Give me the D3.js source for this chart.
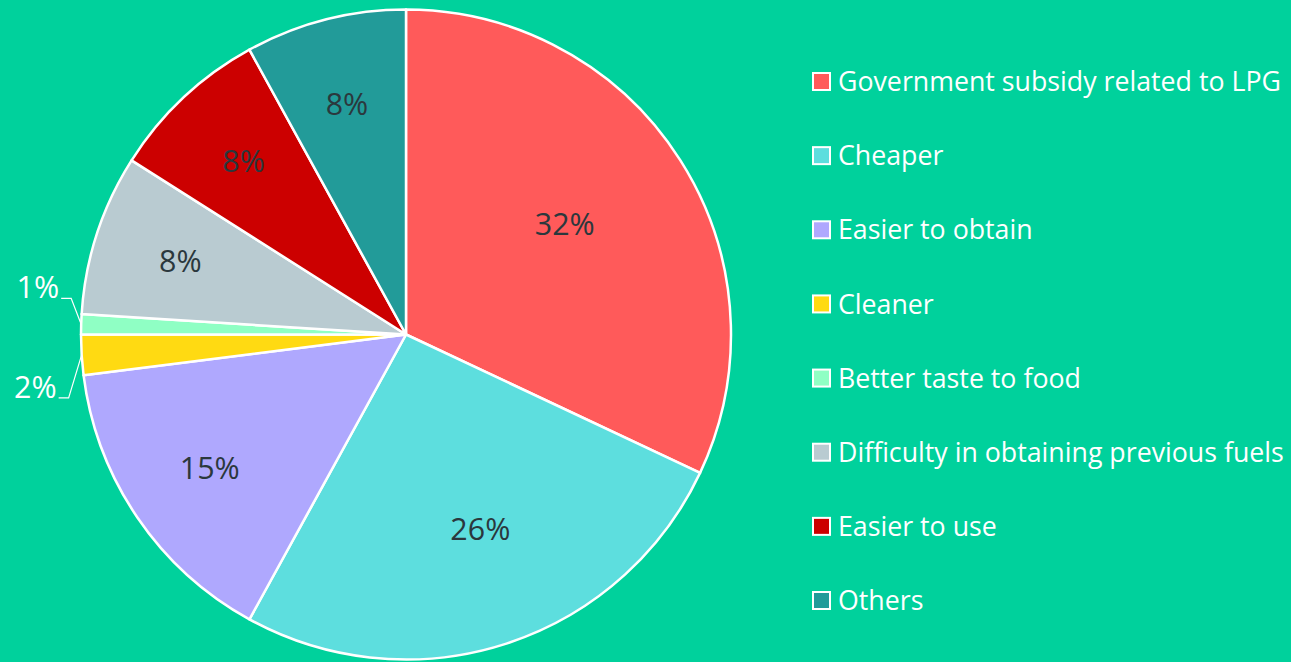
<!DOCTYPE html>
<html><head><meta charset="utf-8">
<script src="https://cdn.jsdelivr.net/npm/d3@7"></script>
<style>html,body{margin:0;padding:0;background:#00D19C;overflow:hidden}</style>
</head><body>
<svg id="c" width="1291" height="662"></svg>
<script>
const categories = ["Government subsidy related to LPG","Cheaper","Easier to obtain","Cleaner","Better taste to food","Difficulty in obtaining previous fuels","Easier to use","Others"];
const values = [32, 26, 15, 2, 1, 8, 8, 8];
const labels = ["32%","26%","15%","2%","1%","8%","8%","8%"];
const colors = ["#FF5A5A","#5DDEDE","#AFA8FE","#FFDA12","#8FFFC4","#B9CBD1","#CC0000","#229B99"];

const svg = d3.select("#c");
svg.append("rect").attr("width",1291).attr("height",662).attr("fill","#00D19C");
const cx = 406, cy = 334.5, R = 325;
const g = svg.append("g").attr("transform",`translate(${cx},${cy})`);
const pie = d3.pie().sort(null).value(d=>d)(values);
const arc = d3.arc().innerRadius(0).outerRadius(R);
g.selectAll("path").data(pie).join("path")
  .attr("d",arc).attr("fill",(d,i)=>colors[i])
  .attr("stroke","#fff").attr("stroke-width",2.5).attr("stroke-linejoin","round");

const font = "'Open Sans', sans-serif";
const total = d3.sum(values);
const probe = svg.append("text").attr("font-family",font).attr("font-size",30).text("32%");
const pw = probe.node().getComputedTextLength(); probe.remove();
const pFont = 30*60/pw;

pie.forEach((d,i)=>{
  const v = values[i]/total;
  const mid = (d.startAngle+d.endAngle)/2;
  if (v >= 0.05) {
    const f = 0.73 - 0.8*Math.max(0, v-0.15);
    const a = mid - (v > 0.3 ? 0.04 : v > 0.2 ? 0.05 : 0);
    const x = Math.sin(a)*R*f, y = -Math.cos(a)*R*f;
    g.append("text").attr("x",x).attr("y",y).attr("dy","0.35em")
      .attr("text-anchor","middle").attr("font-family",font).attr("font-size",pFont)
      .attr("fill","#2B383D").text(labels[i]);
  } else {
    const px = Math.sin(mid)*R, py = -Math.cos(mid)*R;
    const up = mid > 3*Math.PI/2;
    const ex = px - (up?10:13), ey = py + (up?-26:43);
    g.append("polyline").attr("points",`${px},${py} ${ex},${ey} ${ex-10},${ey}`)
      .attr("fill","none").attr("stroke","#fff").attr("stroke-width",1.2);
    g.append("text").attr("x",ex-12).attr("y",ey)
      .attr("text-anchor","end").attr("font-family",font).attr("font-size",pFont)
      .attr("fill","#fff").text(labels[i]);
  }
});

const probe2 = svg.append("text").attr("font-family",font).attr("font-size",26).text(categories[5]);
const lw = probe2.node().getComputedTextLength(); probe2.remove();
const lFont = 26*446/lw;
const ly = d3.scalePoint().domain(categories).range([81.5, 600.5]);
const lg = svg.append("g");
categories.forEach((c,i)=>{
  const y = ly(c);
  lg.append("rect").attr("x",813).attr("y",y-8.5).attr("width",17).attr("height",17)
    .attr("fill",colors[i]).attr("stroke","#fff").attr("stroke-width",2);
  lg.append("text").attr("x",838).attr("y",y).attr("dy","0.36em")
    .attr("font-family",font).attr("font-size",lFont).attr("fill","#fff").text(c);
});
</script>
</body></html>
